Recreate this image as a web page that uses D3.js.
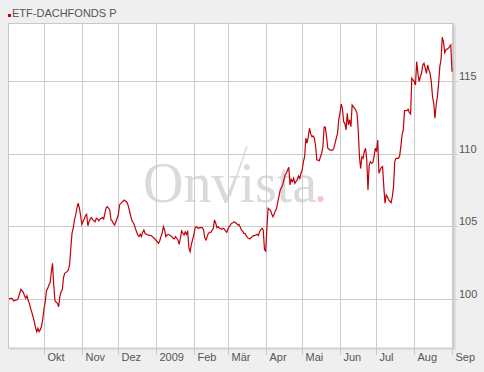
<!DOCTYPE html>
<html lang="de">
<head>
<meta charset="utf-8">
<title>ETF-DACHFONDS P</title>
<script src="https://cdn.jsdelivr.net/npm/d3@7/dist/d3.min.js"></script>
<style>
  body { margin: 0; background: #efefef; }
  svg { display: block; font-family: "Liberation Sans", Arial, sans-serif; }
</style>
</head>
<body>
<svg id="chart" width="484" height="372"></svg>
<script>
var seriesName = "ETF-DACHFONDS P";

var dates = [
  "2008-09-02","2008-09-04","2008-09-05","2008-09-06","2008-09-07","2008-09-09","2008-09-10","2008-09-11","2008-09-12","2008-09-14",
  "2008-09-15","2008-09-16","2008-09-17","2008-09-18","2008-09-19","2008-09-20","2008-09-21","2008-09-22","2008-09-23","2008-09-24",
  "2008-09-25","2008-09-26","2008-09-27","2008-09-28","2008-09-29","2008-09-30","2008-10-01","2008-10-02","2008-10-03","2008-10-04",
  "2008-10-05","2008-10-06","2008-10-07","2008-10-08","2008-10-09","2008-10-10","2008-10-12","2008-10-13","2008-10-14","2008-10-15",
  "2008-10-16","2008-10-17","2008-10-18","2008-10-20","2008-10-21","2008-10-22","2008-10-23","2008-10-24","2008-10-25","2008-10-26",
  "2008-10-27","2008-10-28","2008-10-29","2008-10-30","2008-10-31","2008-11-01","2008-11-02","2008-11-03","2008-11-04","2008-11-05",
  "2008-11-06","2008-11-07","2008-11-08","2008-11-09","2008-11-10","2008-11-12","2008-11-13","2008-11-14","2008-11-15","2008-11-16",
  "2008-11-18","2008-11-19","2008-11-20","2008-11-21","2008-11-22","2008-11-24","2008-11-25","2008-11-26","2008-11-27","2008-11-28",
  "2008-12-01","2008-12-02","2008-12-04","2008-12-06","2008-12-08","2008-12-09","2008-12-10","2008-12-11","2008-12-12","2008-12-14",
  "2008-12-15","2008-12-16","2008-12-17","2008-12-18","2008-12-19","2008-12-20","2008-12-21","2008-12-22","2008-12-23","2008-12-24",
  "2008-12-26","2008-12-28","2008-12-29","2008-12-31","2009-01-02","2009-01-03","2009-01-04","2009-01-05","2009-01-06","2009-01-07",
  "2009-01-08","2009-01-09","2009-01-10","2009-01-11","2009-01-12","2009-01-14","2009-01-15","2009-01-16","2009-01-17","2009-01-18",
  "2009-01-19","2009-01-20","2009-01-21","2009-01-22","2009-01-23","2009-01-24","2009-01-25","2009-01-26","2009-01-27","2009-01-28",
  "2009-01-29","2009-01-30","2009-02-01","2009-02-02","2009-02-03","2009-02-04","2009-02-05","2009-02-06","2009-02-08","2009-02-09",
  "2009-02-10","2009-02-11","2009-02-12","2009-02-13","2009-02-14","2009-02-15","2009-02-17","2009-02-18","2009-02-19","2009-02-20",
  "2009-02-21","2009-02-22","2009-02-24","2009-02-25","2009-02-26","2009-02-27","2009-02-28","2009-03-01","2009-03-02","2009-03-03",
  "2009-03-04","2009-03-05","2009-03-06","2009-03-08","2009-03-09","2009-03-10","2009-03-11","2009-03-12","2009-03-13","2009-03-14",
  "2009-03-15","2009-03-16","2009-03-17","2009-03-19","2009-03-20","2009-03-21","2009-03-22","2009-03-23","2009-03-24","2009-03-25",
  "2009-03-26","2009-03-27","2009-03-28","2009-03-29","2009-03-30","2009-03-31","2009-04-01","2009-04-02","2009-04-03","2009-04-05",
  "2009-04-06","2009-04-07","2009-04-08","2009-04-09","2009-04-10","2009-04-11","2009-04-12","2009-04-13","2009-04-15","2009-04-16",
  "2009-04-17","2009-04-18","2009-04-19","2009-04-20","2009-04-21","2009-04-22","2009-04-23","2009-04-24","2009-04-25","2009-04-27",
  "2009-04-28","2009-04-29","2009-04-30","2009-05-01","2009-05-02","2009-05-03","2009-05-04","2009-05-05","2009-05-06","2009-05-07",
  "2009-05-08","2009-05-09","2009-05-10","2009-05-11","2009-05-12","2009-05-13","2009-05-15","2009-05-16","2009-05-17","2009-05-18",
  "2009-05-19","2009-05-20","2009-05-21","2009-05-22","2009-05-23","2009-05-24","2009-05-26","2009-05-27","2009-05-28","2009-05-29",
  "2009-05-30","2009-05-31","2009-06-01","2009-06-02","2009-06-03","2009-06-04","2009-06-05","2009-06-06","2009-06-07","2009-06-08",
  "2009-06-09","2009-06-10","2009-06-11","2009-06-13","2009-06-14","2009-06-15","2009-06-16","2009-06-17","2009-06-18","2009-06-19",
  "2009-06-20","2009-06-21","2009-06-22","2009-06-23","2009-06-24","2009-06-25","2009-06-26","2009-06-27","2009-06-28","2009-06-29",
  "2009-06-30","2009-07-01","2009-07-02","2009-07-03","2009-07-04","2009-07-05","2009-07-06","2009-07-07","2009-07-08","2009-07-09",
  "2009-07-10","2009-07-11","2009-07-13","2009-07-14","2009-07-15","2009-07-16","2009-07-17","2009-07-19","2009-07-20","2009-07-21",
  "2009-07-22","2009-07-23","2009-07-24","2009-07-26","2009-07-27","2009-07-28","2009-07-29","2009-07-30","2009-08-01","2009-08-02",
  "2009-08-03","2009-08-04","2009-08-05","2009-08-06","2009-08-07","2009-08-08","2009-08-09","2009-08-10","2009-08-11","2009-08-12",
  "2009-08-13","2009-08-14","2009-08-15","2009-08-16","2009-08-17","2009-08-18","2009-08-19","2009-08-20","2009-08-21","2009-08-22",
  "2009-08-23","2009-08-24","2009-08-25","2009-08-26","2009-08-27","2009-08-29","2009-08-30","2009-08-31","2009-09-01"
];

var values = [
  100.00,100.05,100.00,99.86,99.91,99.95,100.09,100.39,100.67,100.46,
  100.23,100.05,100.23,99.91,99.70,99.36,99.08,98.78,98.44,98.05,
  97.75,97.98,97.75,97.89,98.14,98.62,99.36,99.77,100.57,100.73,
  100.96,101.12,101.84,102.46,100.96,99.86,99.70,99.47,100.16,100.50,
  100.62,101.47,101.77,101.88,102.00,102.34,103.49,104.52,104.87,105.44,
  105.78,106.24,106.59,106.28,105.78,105.14,105.32,105.51,105.73,105.83,
  105.04,105.32,105.51,105.60,105.44,105.32,105.55,105.51,105.37,105.51,
  105.60,105.51,105.90,106.28,106.35,106.13,105.44,105.37,105.18,105.09,
  105.78,106.47,106.66,106.81,106.66,106.47,106.13,105.78,105.44,105.14,
  104.87,104.63,104.40,104.29,104.45,104.29,104.59,104.75,104.52,104.45,
  104.40,104.36,104.29,104.13,103.94,103.83,103.99,104.29,104.52,104.98,
  104.75,104.29,104.40,104.45,104.40,104.29,104.18,104.13,104.29,104.18,
  104.06,103.76,104.18,104.68,104.52,104.40,104.63,104.45,104.63,103.49,
  103.26,103.76,104.40,104.87,104.98,104.91,104.87,104.91,104.91,104.75,
  104.22,104.06,104.29,104.52,104.59,104.59,104.87,105.44,105.21,104.91,
  104.98,104.87,104.80,104.87,104.82,104.68,104.59,104.80,104.98,105.09,
  105.21,105.23,105.32,105.21,105.09,105.14,104.98,104.75,104.68,104.52,
  104.52,104.36,104.22,104.13,104.22,104.29,104.36,104.36,104.40,104.45,
  104.36,104.63,104.75,104.87,104.75,103.44,103.26,104.87,106.24,106.08,
  105.85,105.66,105.85,106.08,106.24,106.70,107.09,107.50,107.85,108.19,
  108.53,108.65,108.88,109.06,107.85,108.24,108.07,108.31,107.96,108.24,
  108.47,108.31,108.65,108.88,109.45,109.79,111.06,110.72,111.17,111.75,
  111.36,111.17,111.22,111.06,110.53,109.57,109.52,109.79,110.03,110.48,
  111.82,111.82,111.17,110.37,110.30,110.25,110.25,110.37,110.72,111.06,
  111.40,112.32,112.78,113.42,113.12,112.20,112.09,111.63,112.78,111.98,
  112.32,111.86,113.35,113.12,113.01,112.78,111.63,109.79,108.99,109.79,
  109.68,110.14,110.37,109.57,107.50,109.22,109.45,109.34,109.38,109.79,
  110.37,110.14,110.94,108.65,108.88,109.06,109.11,107.73,106.59,107.16,
  107.04,106.81,106.63,107.04,107.73,109.45,109.68,109.68,109.84,110.48,
  111.29,111.63,112.96,112.96,113.06,112.82,112.73,115.19,114.96,114.73,
  116.33,115.53,114.96,115.30,115.53,116.10,116.22,115.88,115.53,116.10,
  115.76,115.53,114.96,113.92,113.47,112.44,113.35,113.92,114.84,115.99,
  116.45,118.01,117.71,116.95,117.14,117.25,117.36,117.48,115.64
];

var monthTicks = ["2008-10-01","2008-11-01","2008-12-01","2009-01-01","2009-02-01","2009-03-01",
                  "2009-04-01","2009-05-01","2009-06-01","2009-07-01","2009-08-01","2009-09-01"];
var monthLabels = ["Okt","Nov","Dez","2009","Feb","M\u00e4r","Apr","Mai","Jun","Jul","Aug","Sep"];
var yTicks = [100, 105, 110, 115];

var parse = d3.utcParse("%Y-%m-%d");
var data = dates.map(function (d, i) { return { date: parse(d), value: values[i] }; });

// plot box (note: "top" is reserved on window, so prefix everything)
var plotL = 8, plotR = 454, plotT = 23, plotB = 348;

var x = d3.scaleUtc()
    .domain([parse("2008-10-01"), parse("2009-09-01")])
    .range([44, 452]);
var y = d3.scaleLinear()
    .domain([100, 115])
    .range([299, 81]);

var svg = d3.select("#chart");

svg.append("rect").attr("width", 484).attr("height", 372).attr("fill", "#efefef");

// shadow + plot box
svg.append("rect")
    .attr("x", plotL + 2).attr("y", plotT + 2)
    .attr("width", plotR - plotL).attr("height", plotB - plotT)
    .attr("fill", "#dedede");
svg.append("rect")
    .attr("x", plotL + 0.5).attr("y", plotT + 0.5)
    .attr("width", plotR - plotL - 1).attr("height", plotB - plotT - 0.5)
    .attr("fill", "#fff")
    .attr("stroke", "#c8c8c8");

// watermark
svg.append("text")
    .attr("x", 143).attr("y", 202)
    .attr("font-family", "'Liberation Serif', 'Times New Roman', serif")
    .attr("font-size", 56)
    .attr("fill", "#dadada")
    .text("Onvista");
svg.append("line")
    .attr("x1", 230).attr("y1", 196).attr("x2", 247).attr("y2", 146)
    .attr("stroke", "#dadada").attr("stroke-width", 1.5);
svg.append("circle")
    .attr("cx", 320.5).attr("cy", 199).attr("r", 3)
    .attr("fill", "#f3c6c6");

// x axis with month gridlines
var xAxis = svg.append("g")
    .attr("transform", "translate(0," + plotB + ")")
    .call(d3.axisBottom(x)
        .tickValues(monthTicks.map(parse))
        .tickSize(7)
        .tickFormat(function (d, i) { return monthLabels[i]; }));
xAxis.select(".domain").remove();
xAxis.selectAll(".tick").attr("transform", function (d) {
    return "translate(" + (Math.round(x(d)) + 0.5) + ",0)";
});
xAxis.selectAll(".tick line")
    .attr("y1", -(plotB - plotT))
    .attr("y2", 7)
    .attr("stroke", "#cccccc");
xAxis.selectAll(".tick text")
    .attr("x", 3).attr("y", 13).attr("dy", null)
    .attr("text-anchor", "start")
    .attr("fill", "#555")
    .attr("font-size", 11)
    .attr("font-family", "'Liberation Sans', Arial, sans-serif");

// y axis on the right with horizontal gridlines
var yAxis = svg.append("g")
    .attr("transform", "translate(" + plotL + ",0)")
    .call(d3.axisRight(y).tickValues(yTicks).tickSize(450));
yAxis.select(".domain").remove();
yAxis.selectAll(".tick").attr("transform", function (d) {
    return "translate(0," + (Math.round(y(d)) + 0.5) + ")";
});
yAxis.selectAll(".tick line").attr("stroke", "#cccccc");
yAxis.selectAll(".tick text")
    .attr("x", 451).attr("y", -1.5).attr("dy", null)
    .attr("fill", "#555")
    .attr("font-size", 11)
    .attr("font-family", "'Liberation Sans', Arial, sans-serif");

// price line
svg.append("clipPath").attr("id", "plot-clip")
    .append("rect").attr("x", plotL + 1).attr("y", plotT + 1)
    .attr("width", plotR - plotL - 2).attr("height", plotB - plotT - 2);

var line = d3.line()
    .x(function (d) { return x(d.date); })
    .y(function (d) { return y(d.value); });

svg.append("path")
    .datum(data)
    .attr("clip-path", "url(#plot-clip)")
    .attr("d", line)
    .attr("fill", "none")
    .attr("stroke", "#c0000a")
    .attr("stroke-width", 1.2)
    .attr("stroke-linejoin", "miter");

// legend / title
svg.append("rect")
    .attr("x", 8).attr("y", 14).attr("width", 3).attr("height", 3)
    .attr("fill", "#c4000a");
svg.append("text")
    .attr("x", 12).attr("y", 17)
    .attr("font-size", 11)
    .attr("fill", "#555")
    .text(seriesName);
</script>
</body>
</html>
